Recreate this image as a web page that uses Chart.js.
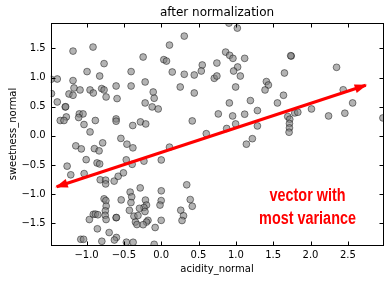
<!DOCTYPE html>
<html>
<head>
<meta charset="utf-8">
<title>after normalization</title>
<script src="https://cdn.jsdelivr.net/npm/chart.js@4/dist/chart.umd.min.js"></script>
<style>
  html, body { margin: 0; padding: 0; background: #fff; }
  #wrap { width: 391px; height: 282px; }
</style>
</head>
<body>
<div id="wrap"><canvas id="scatterChart" width="391" height="282"></canvas></div>
<script>
// normalized samples
const acidity = [
  -1.181, -0.913, -0.765, -0.993, -0.824, -0.403, -1.475, -1.392, -1.181, -1.168,
  -1.087, -0.953, -0.909, -0.797, -0.765, -0.604, -0.403, -1.470, -1.235, -1.181,
  -0.738, -0.591, -1.392, -1.285, -1.280, -1.097, -1.047, -1.106, -1.271, -1.352,
  -1.302, -0.882, -0.604, -0.604, -1.034, -0.953, -0.381, 0.309, 0.111, -0.242,
  0.035, 0.071, 0.550, 0.746, 0.148, 0.309, 0.443, 0.537, 0.711, 0.746,
  -0.215, 0.255, 0.443, -0.107, -0.094, -0.215, -0.121, -0.040, 0.765, 0.416,
  -0.278, -0.207, 0.604, 0.907, 1.020, 0.863, 0.917, 0.961, 1.118, 1.742,
  1.735, 1.024, 0.970, 1.651, 1.060, 1.409, 1.436, 1.391, 0.997, 1.638,
  1.195, 0.913, 1.557, 1.289, 0.957, 1.118, 1.695, 1.722, 1.789, 1.830,
  1.718, 1.718, 1.713, 0.997, 0.877, 1.289, 1.221, 2.349, 2.438, 2.564,
  2.013, 2.242, 2.460, 2.970, -0.540, -0.459, -0.379, -1.144, -1.070, -0.895,
  -0.832, -0.784, -1.260, -1.005, -0.859, -0.824, -0.468, -0.389, -1.211, -1.032,
  -0.817, -0.744, -0.744, -0.630, -0.576, -0.506, -0.765, -0.741, -0.737, -0.748,
  -0.750, -0.536, -0.416, -0.395, -0.405, -0.426, -0.909, -0.882, -0.848, -0.962,
  -0.738, -0.604, -0.600, -0.365, -0.345, -0.855, -0.697, -0.600, -0.627, -0.795,
  -1.077, -1.040, -0.466, -0.376, 0.111, 0.001, -0.231, 0.342, -0.281, 0.001,
  -0.211, -0.197, -0.231, -0.217, -0.177, -0.197, -0.311, -0.325, -0.242, 0.000,
  -0.016, 0.000, -0.081, -0.291, 0.389, 0.416, 0.262, 0.299, 0.279, -0.094,
  1.141
];
const sweetness = [
  1.455, 1.524, 1.240, 1.103, 1.027, 1.103, 0.971, 0.976, 0.949, 0.822,
  0.788, 0.788, 0.736, 0.812, 0.788, 0.856, 0.856, 0.726, 0.719, 0.697,
  0.668, 0.640, 0.582, 0.497, 0.500, 0.377, 0.377, 0.315, 0.325, 0.264,
  0.264, 0.264, 0.291, 0.252, 0.195, 0.068, 0.178, 1.712, 1.558, 1.353,
  1.308, 1.284, 1.216, 1.250, 1.096, 1.057, 1.045, 1.113, 0.988, 1.027,
  0.925, 0.839, 0.736, 0.753, 0.646, 0.565, 0.497, 0.462, 0.377, 0.257,
  0.240, 0.205, 0.038, 1.935, 1.849, 1.438, 1.382, 1.330, 1.330, 1.370,
  1.375, 1.182, 1.113, 1.079, 1.027, 0.932, 0.873, 0.788, 0.839, 0.697,
  0.606, 0.565, 0.565, 0.435, 0.342, 0.372, 0.332, 0.286, 0.394, 0.406,
  0.212, 0.137, 0.063, 0.205, 0.127, 0.171, -0.048, 1.176, 0.791, 0.565,
  0.462, 0.342, 0.389, 0.308, -0.043, -0.142, -0.205, -0.171, -0.223, -0.219,
  -0.257, -0.120, -0.519, -0.408, -0.464, -0.481, -0.411, -0.488, -0.668, -0.647,
  -0.753, -0.759, -0.824, -0.776, -0.693, -0.634, -1.080, -1.110, -1.204, -1.286,
  -1.363, -1.098, -0.964, -1.045, -1.144, -1.277, -1.346, -1.341, -1.353, -1.435,
  -1.435, -1.404, -1.400, -1.378, -1.478, -1.594, -1.658, -1.743, -1.786, -1.808,
  -1.774, -1.774, -1.824, -1.825, -0.193, -0.413, -0.433, -0.839, -0.892, -0.942,
  -1.101, -1.187, -1.229, -1.298, -1.449, -1.478, -1.366, -1.521, -1.524, -1.110,
  -1.187, -1.449, -1.572, -1.243, -1.092, -1.207, -1.276, -1.370, -1.452, -1.860,
  -0.142
];

const xTicks = [-1.0, -0.5, 0.0, 0.5, 1.0, 1.5, 2.0, 2.5];
const yTicks = [-1.5, -1.0, -0.5, 0.0, 0.5, 1.0, 1.5];

// direction of most variance (arrow tips)
const arrowX = [-1.40, 2.74];
const arrowY = [-0.873, 0.868];

const noteLines = ['vector with', 'most variance'];
const noteX = 1.96;
const noteY = [-1.03, -1.43];

const fmt = v => v.toFixed(1).replace('-', '\u2212');
const tickFont = { family: 'DejaVu Sans', size: 10 };

function drawHead(ctx, x, y, ang) {
  const len = 11, half = 4.5;
  const c = Math.cos(ang), s = Math.sin(ang);
  ctx.beginPath();
  ctx.moveTo(x + 1.5 * c, y + 1.5 * s);
  ctx.lineTo(x - len * c + half * s, y - len * s - half * c);
  ctx.lineTo(x - len * c - half * s, y - len * s + half * c);
  ctx.closePath();
  ctx.fill();
}

const arrowAndNote = {
  id: 'arrowAndNote',
  afterDatasetsDraw(chart) {
    const { ctx, scales: { x, y } } = chart;
    const [p0, p1] = chart.getDatasetMeta(0).data;
    const ang = Math.atan2(p1.y - p0.y, p1.x - p0.x);
    ctx.save();
    ctx.fillStyle = '#ff0000';
    drawHead(ctx, p1.x, p1.y, ang);
    drawHead(ctx, p0.x, p0.y, ang + Math.PI);

    // condensed bold look: squeeze Liberation Sans Bold horizontally
    ctx.font = "bold 18px 'Liberation Sans', Arial, sans-serif";
    ctx.textAlign = 'center';
    ctx.textBaseline = 'middle';
    noteLines.forEach((t, i) => {
      const px = x.getPixelForValue(noteX), py = y.getPixelForValue(noteY[i]);
      ctx.save();
      ctx.translate(px, py);
      ctx.scale(0.8, 1);
      ctx.fillText(t, 0, 0);
      ctx.restore();
    });
    ctx.restore();
  }
};

// matplotlib-style frame with inward ticks on all four sides
const frameTicks = {
  id: 'frameTicks',
  afterDraw(chart) {
    const { ctx, chartArea: a, scales: { x, y } } = chart;
    const L = Math.round(a.left) + 0.5, R = Math.round(a.right) + 0.5;
    const T = Math.round(a.top) + 0.5, B = Math.round(a.bottom) + 0.5;
    ctx.save();
    ctx.strokeStyle = '#000';
    ctx.lineWidth = 1;
    ctx.beginPath();
    xTicks.forEach(v => {
      const px = Math.round(x.getPixelForValue(v)) + 0.5;
      ctx.moveTo(px, B); ctx.lineTo(px, B - 4);
      ctx.moveTo(px, T); ctx.lineTo(px, T + 4);
    });
    yTicks.forEach(v => {
      const py = Math.round(y.getPixelForValue(v)) + 0.5;
      ctx.moveTo(L, py); ctx.lineTo(L + 4, py);
      ctx.moveTo(R, py); ctx.lineTo(R - 4, py);
    });
    ctx.stroke();
    ctx.strokeRect(L, T, R - L, B - T);
    ctx.restore();
  }
};

new Chart(document.getElementById('scatterChart'), {
  type: 'scatter',
  data: {
    datasets: [
      {
        label: 'most variance',
        data: arrowX.map((v, i) => ({ x: v, y: arrowY[i] })),
        showLine: true,
        borderColor: '#ff0000',
        borderWidth: 3,
        pointRadius: 0,
        clip: 0
      },
      {
        label: 'samples',
        data: acidity.map((v, i) => ({ x: v, y: sweetness[i] })),
        pointRadius: 3.4,
        pointBackgroundColor: 'rgba(128, 128, 128, 0.6)',
        pointBorderColor: 'rgba(0, 0, 0, 0.45)',
        pointBorderWidth: 1,
        clip: 0
      }
    ]
  },
  options: {
    responsive: false,
    animation: false,
    events: [],
    layout: { padding: { right: 7.7 } },
    plugins: {
      legend: { display: false },
      tooltip: { enabled: false },
      title: {
        display: true,
        fullSize: false,
        text: 'after normalization',
        color: '#000',
        font: { family: 'DejaVu Sans', size: 12, weight: 'normal' },
        padding: { top: 6, bottom: 2.7 }
      }
    },
    scales: {
      x: {
        type: 'linear',
        position: 'bottom',
        min: -1.48,
        max: 2.975,
        grid: { display: false, drawTicks: false },
        border: { display: false },
        afterBuildTicks: s => { s.ticks = xTicks.map(v => ({ value: v })); },
        afterFit: s => { s.height = 37; },
        ticks: { padding: 4, color: '#000', font: tickFont, maxRotation: 0, autoSkip: false, callback: fmt },
        title: { display: true, text: 'acidity_normal', color: '#000', font: tickFont, padding: { top: 0, bottom: 7 } }
      },
      y: {
        type: 'linear',
        min: -1.872,
        max: 1.935,
        grid: { display: false, drawTicks: false },
        border: { display: false },
        afterBuildTicks: s => { s.ticks = yTicks.map(v => ({ value: v })); },
        afterFit: s => { s.width = 50.7; },
        ticks: { padding: 5, color: '#000', font: tickFont, autoSkip: false, callback: fmt },
        title: { display: true, text: 'sweetness_normal', color: '#000', font: tickFont, padding: { top: 7, bottom: 0 } }
      }
    }
  },
  plugins: [arrowAndNote, frameTicks]
});
</script>
</body>
</html>
